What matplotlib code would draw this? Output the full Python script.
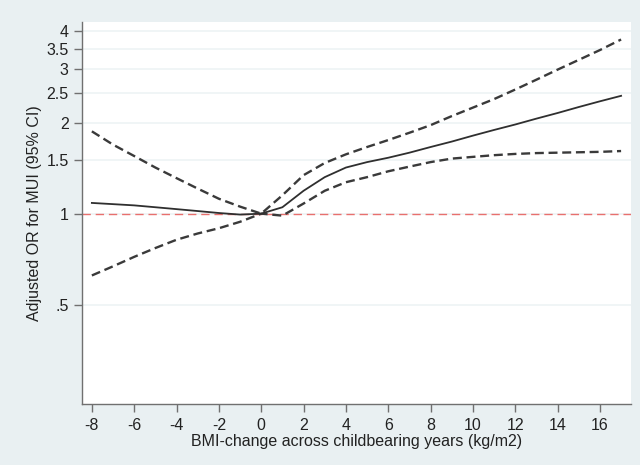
import matplotlib.pyplot as plt
from matplotlib.ticker import FixedLocator, FixedFormatter, NullLocator

# BMI change (kg/m2) and adjusted odds ratios with 95% CI bounds
bmi_change = [-8, -7, -6, -5, -4, -3, -2, -1, 0, 1, 2, 3, 4, 5, 6, 7, 8,
              9, 10, 11, 12, 13, 14, 15, 16, 17]
or_est = [1.085, 1.075, 1.065, 1.05, 1.035, 1.02, 1.005, 0.993, 1.0, 1.05,
          1.19, 1.32, 1.42, 1.48, 1.53, 1.59, 1.66, 1.73, 1.81, 1.89, 1.97,
          2.06, 2.15, 2.25, 2.35, 2.45]
ci_upper = [1.87, 1.69, 1.55, 1.42, 1.31, 1.21, 1.12, 1.055, 1.0, 1.15,
            1.34, 1.47, 1.57, 1.66, 1.75, 1.85, 1.96, 2.1, 2.24, 2.39, 2.57,
            2.77, 2.99, 3.22, 3.47, 3.76]
ci_lower = [0.625, 0.67, 0.72, 0.77, 0.82, 0.86, 0.895, 0.94, 1.0, 0.985,
            1.08, 1.19, 1.27, 1.32, 1.38, 1.43, 1.48, 1.52, 1.54, 1.56,
            1.575, 1.585, 1.59, 1.595, 1.6, 1.61]

y_ticks = [0.5, 1, 1.5, 2, 2.5, 3, 3.5, 4]
y_labels = ['.5', '1', '1.5', '2', '2.5', '3', '3.5', '4']
x_ticks = list(range(-8, 17, 2))

plt.rcParams['font.family'] = ['Liberation Sans', 'DejaVu Sans']
plt.rcParams['axes.unicode_minus'] = False

bg = '#e9f0f2'
fig = plt.figure(figsize=(6.4, 4.65), dpi=100, facecolor=bg)
ax = fig.add_axes([0.128, 0.131, 0.858, 0.822])
ax.set_facecolor('white')

ax.set_yscale('log')
ax.set_ylim(0.235, 4.3)
ax.set_xlim(-8.47, 17.47)

ax.yaxis.set_major_locator(FixedLocator(y_ticks))
ax.yaxis.set_major_formatter(FixedFormatter(y_labels))
ax.yaxis.set_minor_locator(NullLocator())
ax.set_xticks(x_ticks)

for v in y_ticks:
    ax.axhline(v, color='#edf3f5', lw=1.2, zorder=0)

ax.axhline(1, color='#e8706e', lw=1.0, dashes=(6, 3.5), zorder=1)
ax.plot(bmi_change, ci_upper, color='#3a3a3a', lw=1.7, dashes=(3.8, 2))
ax.plot(bmi_change, ci_lower, color='#3a3a3a', lw=1.7, dashes=(3.8, 2))
ax.plot(bmi_change, or_est, color='#2f2f2f', lw=1.3)

for side in ['top', 'right']:
    ax.spines[side].set_visible(False)
for side in ['left', 'bottom']:
    ax.spines[side].set_color('#707070')
    ax.spines[side].set_linewidth(1.0)

ax.tick_params(axis='both', colors='#707070', labelcolor='#222222',
               labelsize=11.5, length=6, width=1.0)
ax.tick_params(axis='x', pad=4)

ax.set_xlabel('BMI-change across childbearing years (kg/m2)', fontsize=11.5,
              color='#222222', labelpad=1)
ax.set_ylabel('Adjusted OR for MUI (95% CI)', fontsize=11.5,
              color='#222222', labelpad=3)

fig.savefig('out.png', dpi=100, facecolor=bg)
